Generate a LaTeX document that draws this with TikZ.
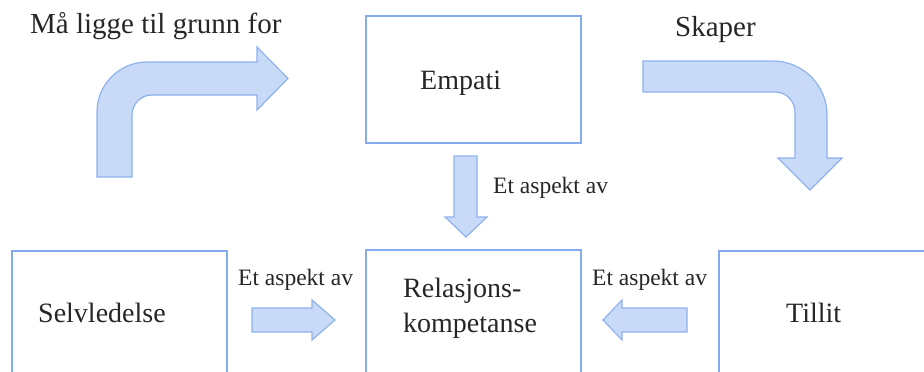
\documentclass[tikz,border=0pt]{standalone}
\usepackage{fontspec}
\setmainfont{Liberation Serif}
\definecolor{boxline}{HTML}{86AAF0}
\definecolor{arrfill}{HTML}{C9DAF8}
\definecolor{arrline}{HTML}{8DB2EE}
\definecolor{txt}{HTML}{262626}
\begin{document}
\begin{tikzpicture}[x=1pt,y=-1pt,
  boxnode/.style={draw=boxline,line width=1.5pt,rectangle,inner sep=0pt,minimum width=215pt},
  blockarrow/.style={fill=arrfill,draw=arrline,line width=1.2pt,line join=miter},
  bigtext/.style={text=txt,inner sep=0pt,anchor=base west,font=\fontsize{28}{34}\selectfont},
  toptext/.style={text=txt,inner sep=0pt,anchor=base west,font=\fontsize{29}{34}\selectfont},
  smalltext/.style={text=txt,inner sep=0pt,anchor=base west,font=\fontsize{23.5}{28}\selectfont}]
\useasboundingbox (0,0) rectangle (924,372);
% boxes
\node[boxnode,minimum height=127pt] (empatibox) at (473.5,79.5) {};
\node[boxnode,minimum height=150pt] (relbox) at (473.5,325) {};
\node[boxnode,minimum height=149pt] (selvbox) at (119.5,325.5) {};
\node[boxnode,minimum height=149pt] (tillitbox) at (826.5,325.5) {};
% texts
\node[bigtext] (empati) at (420,89) {Empati};
\node[bigtext] (selv) at (38,322) {Selvledelse};
\node[bigtext] (tillit) at (786,322) {Tillit};
\node[bigtext] (rel1) at (403,297) {Relasjons-};
\node[bigtext] (rel2) at (403,332) {kompetanse};
\node[toptext] (grunn) at (30,33) {Må ligge til grunn for};
\node[toptext] (skaper) at (675,36) {Skaper};
\node[smalltext] (asp1) at (493,193) {Et aspekt av};
\node[smalltext] (asp2) at (238,285) {Et aspekt av};
\node[smalltext] (asp3) at (592,285) {Et aspekt av};
% bent arrow left
\draw[blockarrow] (97,177) -- (97,112)
  .. controls (97,84.4) and (119.4,62) .. (147,62)
  -- (257,62) -- (257,47) -- (288,78.5) -- (257,110) -- (257,95) -- (152,95)
  .. controls (141,95) and (132,104) .. (132,115)
  -- (132,177) -- cycle;
% bent arrow right
\draw[blockarrow] (643,61) -- (773,61)
  .. controls (802.8,61) and (827,85.2) .. (827,115)
  -- (827,158) -- (842,158) -- (810,190) -- (778,158) -- (795,158) -- (795,112)
  .. controls (795,101) and (786,92) .. (775,92)
  -- (643,92) -- cycle;
% down arrow
\draw[blockarrow] (454,156) -- (477,156) -- (477,217) -- (487,217) -- (466,237)
  -- (445,217) -- (454,217) -- cycle;
% right-pointing arrow
\draw[blockarrow] (252,308) -- (312,308) -- (312,300) -- (335,320) -- (312,340)
  -- (312,332) -- (252,332) -- cycle;
% left-pointing arrow
\draw[blockarrow] (687,308) -- (622,308) -- (622,300) -- (603,320) -- (622,340)
  -- (622,332) -- (687,332) -- cycle;
\end{tikzpicture}
\end{document}
